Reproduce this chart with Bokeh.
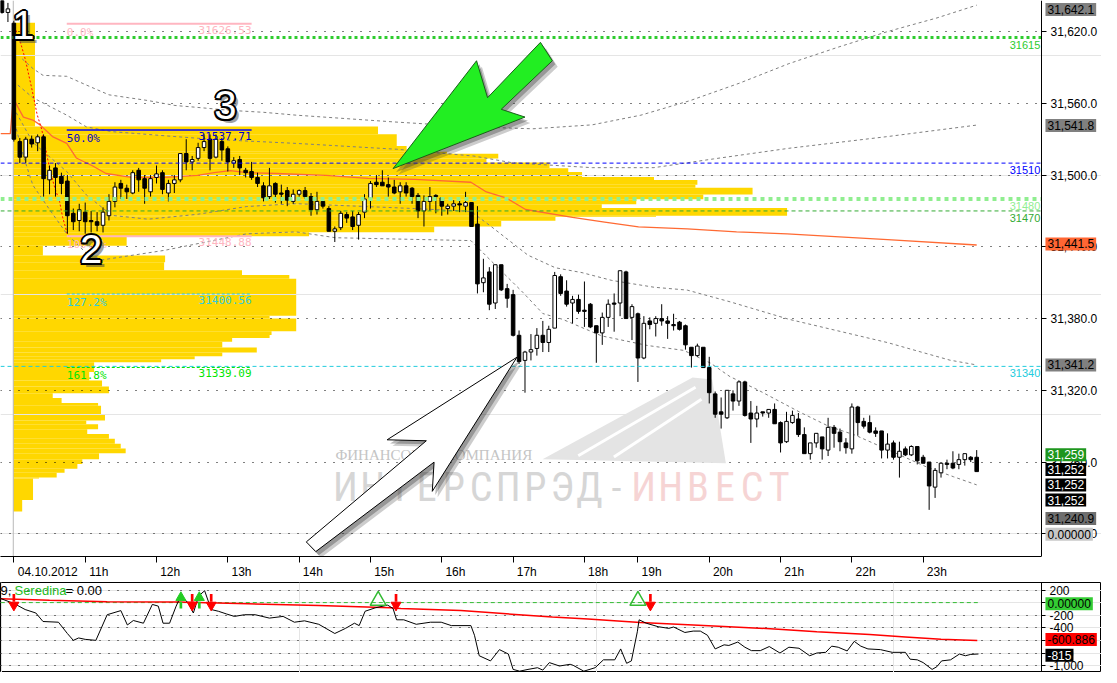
from bokeh.plotting import figure
from bokeh.layouts import column
from bokeh.models import (Range1d, FixedTicker, NumeralTickFormatter, CustomJSTickFormatter,
                          Label, Span, ColumnDataSource, LinearAxis, Grid)
from bokeh.core.properties import value
from bokeh.embed import file_html
from bokeh.resources import INLINE

# ---------------- candles (5-minute bars, index = bar number) ----------------
bar_open = [31646, 31636, 31627, 31528, 31515, 31530, 31527, 31532, 31496, 31506,
            31499, 31495, 31468, 31462, 31469, 31462, 31461, 31458, 31466, 31478,
            31493, 31489, 31485, 31504, 31497, 31486, 31498, 31502, 31485, 31493,
            31496, 31518, 31511, 31514, 31523, 31530, 31515, 31528, 31522, 31510,
            31513, 31504, 31503, 31498, 31491, 31482, 31493, 31485, 31487, 31478,
            31484, 31487, 31482, 31471, 31478, 31472, 31453, 31456, 31467, 31465,
            31458, 31469, 31481, 31494, 31494, 31492, 31490, 31486, 31491, 31489,
            31483, 31470, 31478, 31483, 31481, 31472, 31474, 31476, 31474, 31477,
            31459, 31410, 31419, 31393, 31425, 31405, 31400, 31366, 31345, 31352,
            31355, 31366, 31360, 31372, 31415, 31403, 31393, 31396, 31387, 31392,
            31374, 31368, 31381, 31393, 31393, 31419, 31381, 31384, 31347, 31378,
            31376, 31380, 31378, 31375, 31377, 31374, 31356, 31349, 31356, 31339,
            31317, 31302, 31297, 31317, 31311, 31327, 31301, 31296, 31302, 31301,
            31304, 31293, 31277, 31293, 31296, 31283, 31267, 31276, 31281, 31270,
            31289, 31285, 31276, 31271, 31306, 31294, 31293, 31286, 31286, 31270,
            31276, 31264, 31271, 31266, 31273, 31264, 31260, 31239, 31251, 31259,
            31259, 31258, 31262, 31264, 31264]
bar_high = [31648, 31644, 31629, 31531, 31532, 31533, 31534, 31534, 31508, 31510,
            31502, 31500, 31472, 31476, 31477, 31470, 31469, 31473, 31484, 31494,
            31496, 31492, 31504, 31506, 31500, 31500, 31508, 31504, 31496, 31500,
            31518, 31530, 31516, 31527, 31534, 31534, 31534, 31531, 31524, 31515,
            31516, 31506, 31511, 31502, 31494, 31506, 31494, 31492, 31490, 31488,
            31488, 31490, 31485, 31486, 31478, 31474, 31457, 31470, 31469, 31470,
            31469, 31484, 31495, 31500, 31504, 31498, 31496, 31494, 31494, 31490,
            31485, 31483, 31490, 31484, 31481, 31476, 31479, 31479, 31486, 31477,
            31474, 31430, 31423, 31425, 31425, 31409, 31404, 31370, 31353, 31367,
            31372, 31378, 31374, 31419, 31417, 31412, 31399, 31400, 31411, 31393,
            31374, 31385, 31396, 31401, 31420, 31420, 31392, 31385, 31382, 31381,
            31382, 31392, 31382, 31384, 31378, 31375, 31356, 31359, 31356, 31348,
            31319, 31314, 31320, 31320, 31328, 31328, 31311, 31307, 31302, 31304,
            31309, 31294, 31302, 31303, 31301, 31289, 31276, 31284, 31281, 31297,
            31291, 31288, 31280, 31309, 31307, 31297, 31299, 31289, 31286, 31284,
            31278, 31277, 31273, 31274, 31273, 31266, 31260, 31255, 31260, 31262,
            31269, 31267, 31267, 31265, 31270]
bar_low = [31635, 31628, 31528, 31510, 31510, 31523, 31520, 31482, 31484, 31482,
           31484, 31451, 31454, 31453, 31451, 31452, 31453, 31452, 31462, 31473,
           31480, 31480, 31484, 31486, 31476, 31482, 31493, 31484, 31478, 31485,
           31494, 31504, 31504, 31512, 31520, 31504, 31514, 31512, 31503, 31506,
           31500, 31498, 31496, 31490, 31478, 31480, 31477, 31476, 31474, 31476,
           31482, 31480, 31466, 31467, 31472, 31453, 31444, 31454, 31460, 31454,
           31446, 31464, 31472, 31490, 31491, 31482, 31484, 31476, 31482, 31476,
           31464, 31457, 31470, 31468, 31466, 31467, 31470, 31469, 31469, 31457,
           31401, 31402, 31387, 31388, 31403, 31389, 31365, 31342, 31318, 31345,
           31349, 31352, 31352, 31372, 31399, 31390, 31376, 31384, 31373, 31372,
           31343, 31358, 31373, 31369, 31382, 31380, 31362, 31327, 31346, 31371,
           31365, 31374, 31363, 31370, 31370, 31354, 31339, 31348, 31339, 31309,
           31297, 31288, 31296, 31303, 31307, 31298, 31276, 31289, 31298, 31297,
           31292, 31268, 31276, 31292, 31281, 31267, 31262, 31272, 31262, 31265,
           31272, 31269, 31267, 31267, 31282, 31288, 31284, 31281, 31263, 31263,
           31262, 31247, 31265, 31265, 31258, 31259, 31220, 31230, 31247, 31254,
           31254, 31254, 31257, 31260, 31252]
bar_close = [31636, 31639, 31530, 31515, 31530, 31526, 31532, 31497, 31504, 31498,
             31493, 31466, 31461, 31471, 31461, 31461, 31458, 31469, 31478, 31490,
             31489, 31486, 31502, 31496, 31489, 31497, 31501, 31488, 31493, 31496,
             31518, 31511, 31513, 31523, 31528, 31514, 31530, 31521, 31511, 31512,
             31506, 31502, 31498, 31493, 31481, 31491, 31484, 31484, 31479, 31484,
             31487, 31482, 31471, 31478, 31474, 31453, 31455, 31468, 31464, 31457,
             31467, 31480, 31493, 31492, 31491, 31490, 31485, 31491, 31485, 31482,
             31470, 31478, 31482, 31482, 31474, 31474, 31476, 31475, 31477, 31457,
             31409, 31414, 31392, 31425, 31404, 31397, 31366, 31344, 31352, 31354,
             31366, 31360, 31371, 31416, 31401, 31392, 31396, 31386, 31386, 31373,
             31368, 31381, 31392, 31392, 31420, 31380, 31390, 31347, 31376, 31375,
             31380, 31378, 31376, 31374, 31371, 31358, 31349, 31357, 31339, 31318,
             31300, 31300, 31320, 31311, 31327, 31299, 31296, 31301, 31301, 31304,
             31292, 31276, 31294, 31299, 31283, 31267, 31276, 31284, 31271, 31289,
             31284, 31277, 31272, 31306, 31293, 31290, 31285, 31284, 31270, 31275,
             31264, 31269, 31266, 31273, 31261, 31259, 31240, 31253, 31259, 31258,
             31255, 31262, 31267, 31262, 31252]

# ---------------- axis ticks ----------------
price_ticks = [31200, 31260, 31320, 31380, 31440, 31500, 31560, 31620]
hour_ticks = [2, 14, 26, 38, 50, 62, 74, 86, 98, 107, 119, 131, 143, 155]
hour_labels = ["04.10.2012", "11h", "12h", "13h", "14h", "15h", "16h", "17h",
               "18h", "19h", "20h", "21h", "22h", "23h"]
osc_ticks = [-1000, -800, -600, -400, -200, 0, 200]

# ---------------- volume profile (price bins, volume) ----------------
vp_edges = [31627.3, 31540.6, 31534.1, 31524.4, 31519.5, 31517.9, 31513.8, 31510.6,
            31505.7, 31502.5, 31498.4, 31495.9, 31491.9, 31489.5, 31483.8, 31479.7,
            31475.7, 31472.4, 31466.0, 31465.2, 31461.9, 31457.0, 31452.2, 31448.9,
            31440.8, 31432.7, 31427.0, 31420.5, 31416.5, 31413.2, 31382.4, 31380.0,
            31369.4, 31366.2, 31363.8, 31360.5, 31355.7, 31351.6, 31348.4, 31345.9,
            31343.5, 31335.4, 31328.1, 31323.2, 31317.5, 31313.5, 31309.4, 31307.0,
            31299.7, 31294.8, 31291.6, 31287.5, 31283.5, 31279.4, 31275.4, 31271.3,
            31267.3, 31262.4, 31258.3, 31254.3, 31251.0, 31247.0, 31246.2, 31228.3,
            31218.6]
vp_volume = [22, 370, 389, 399, 440, 492, 480, 544, 563, 577, 650, 694, 692, 750, 700, 632,
             597, 785, 652, 550, 495, 427, 300, 115, 30, 154, 153, 232, 280, 287, 260, 287,
             262, 260, 222, 212, 247, 212, 184, 150, 82, 77, 90, 97, 40, 49, 86, 89,
             93, 74, 86, 75, 97, 103, 109, 114, 87, 70, 65, 52, 44, 26, 20, 9]

# ---------------- VWAP and deviation bands ----------------
vwap_x = [-0.25, 1.4, 1.9, 2.7, 3.6, 5.2, 6.4, 8.5, 10.9, 12.5, 15.2, 17.5, 21.8, 27.4,
          32.9, 35.7, 38.4, 41.2, 46.2, 54.5, 61.6, 69.4, 78.9, 81.5, 84.8, 88.1, 96.0,
          101.4, 107.1, 115.3, 123.6, 132.1, 149.0, 164.0]
vwap_y = [31534.6, 31534.6, 31564.7, 31556.6, 31548.5, 31546.0, 31542.0, 31532.2, 31526.5,
          31514.3, 31507.8, 31501.3, 31498.1, 31498.1, 31499.7, 31502.1, 31503.7, 31502.1,
          31501.3, 31499.7, 31497.2, 31496.4, 31494.0, 31485.9, 31481.0, 31471.2, 31464.7,
          31460.7, 31456.6, 31455.0, 31452.5, 31450.9, 31446.0, 31441.5]
u1_x = [1.9, 5.2, 10.9, 14.2, 18.5, 23.0, 29.1, 35.7, 49.5, 66.4, 79.4, 86.0, 99.3, 109.7,
        119.7, 132.4, 149.0, 164.0]
u1_y = [31578.5, 31564.7, 31550.1, 31540.3, 31536.3, 31534.6, 31532.2, 31529.8, 31526.5,
        31521.6, 31515.9, 31510.2, 31506.2, 31506.2, 31513.5, 31522.4, 31532.2, 31541.8]
u2_x = [3.4, 5.2, 6.9, 10.9, 14.2, 18.0, 21.3, 24.6, 29.1, 32.9, 38.4, 44.0, 49.5, 66.1,
        79.4, 89.3, 99.3, 107.5, 115.8, 124.1, 132.4, 140.7, 149.0, 157.3, 164.0]
u2_y = [31597.2, 31589.1, 31583.4, 31582.6, 31575.3, 31567.1, 31564.7, 31562.3, 31558.2,
        31556.6, 31554.1, 31552.5, 31550.1, 31544.4, 31540.3, 31538.7, 31542.0, 31550.1,
        31562.3, 31576.9, 31593.2, 31607.0, 31620.0, 31631.4, 31642.1]
l1_x = [1.9, 5.2, 10.9, 14.2, 18.5, 24.6, 32.9, 41.2, 49.5, 69.4, 78.9, 82.2, 88.5, 93.1,
        97.6, 102.6, 109.7, 115.3, 122.5, 132.4, 149.0, 159.5, 164.0]
l1_y = [31556.6, 31527.3, 31502.9, 31483.4, 31466.3, 31463.1, 31467.2, 31473.7, 31476.1,
        31472.0, 31469.6, 31457.4, 31433.0, 31422.5, 31418.4, 31411.9, 31406.2, 31403.8,
        31394.0, 31379.4, 31359.9, 31345.2, 31341.2]
l2_x = [1.9, 3.6, 5.2, 8.0, 10.9, 14.2, 16.8, 27.4, 41.2, 49.5, 56.1, 78.9, 81.5, 84.8,
        87.6, 91.0, 94.3, 100.9, 108.7, 114.7, 119.2, 122.5, 127.0, 134.1, 139.1, 143.5,
        151.2, 155.6, 160.1, 164.0]
l2_y = [31548.5, 31515.9, 31491.5, 31471.2, 31450.9, 31434.6, 31429.0, 31437.1, 31450.9,
        31452.5, 31447.6, 31445.2, 31432.2, 31415.9, 31402.1, 31384.2, 31379.4, 31365.5,
        31357.4, 31353.4, 31342.8, 31331.4, 31320.8, 31302.1, 31289.9, 31282.6, 31265.6,
        31255.8, 31247.7, 31240.9]
sar_x = [1.9, 3.1, 3.9, 5.1, 5.9, 6.7, 7.5, 8.0, 8.9, 9.7, 10.2, 10.9, 11.0]
sar_y = [31627.3, 31611.0, 31597.2, 31570.4, 31550.9, 31537.9, 31518.4, 31505.4, 31489.1,
         31477.7, 31464.7, 31452.5, 31450.9]

# ---------------- Fibonacci & levels ----------------
fib_levels = [31626.53, 31537.71, 31448.88, 31400.56, 31339.09]
fib_pct = ["0.0%", "50.0%", "100.0%", "127.2%", "161.8%"]
fib_start, fib_end = 10.9, 42.0
level_prices = [31615, 31510, 31480, 31470, 31340]
session_start = 1.9

# ---------------- price tags on the right ----------------
tag_text = ["31,642.1", "31,541.8", "31,441.5", "31,341.2", "31,259",
            "31,252", "31,252", "31,252", "31,240.9", "0.00000"]
tag_price = [31638.5, 31541.5, 31442.4, 31341.2, 31266.0,
             31253.8, 31240.8, 31228.2, 31212.7, 31199.7]

# ---------------- lower indicator ----------------
osc_x = [-0.2, 2.1, 3.9, 5.7, 6.9, 9.5, 11.0, 12.0, 12.9, 14.0,
         15.8, 17.7, 20.0, 21.1, 22.1, 23.8, 25.3, 26.3, 27.1, 28.2,
         29.3, 30.1, 31.3, 32.2, 33.1, 34.1, 35.2, 36.4, 37.8, 39.1,
         40.8, 42.6, 45.0, 47.3, 49.2, 50.9, 53.3, 56.0, 57.8, 59.3,
         60.1, 61.1, 62.8, 64.9, 65.8, 66.4, 67.6, 69.7, 72.1, 73.9,
         75.6, 78.9, 79.5, 80.3, 82.2, 83.7, 85.2, 86.0, 87.1, 88.5,
         90.1, 91.0, 92.1, 93.8, 95.6, 96.1, 97.9, 99.8, 101.2, 103.1,
         104.1, 105.1, 105.9, 106.9, 107.2, 108.4, 110.4, 112.2, 113.0, 114.9,
         116.3, 117.5, 118.7, 120.0, 121.5, 122.3, 123.8, 125.0, 126.1, 127.6,
         129.1, 130.9, 132.4, 134.1, 135.9, 137.1, 138.6, 139.6, 140.7, 142.2,
         143.4, 144.5, 145.7, 147.8, 149.8, 152.0, 152.8, 154.0, 155.0, 156.5,
         157.3, 158.1, 159.6, 161.1, 162.1, 163.0, 164.3]
osc_val = [64, -18, -110, -165, -300, -311, -490, -599, -561, -583,
           -599, -192, -127, -355, -284, -327, -29, -56, -327, -327,
           -56, 107, -2, -165, 107, 188, -110, -137, -181, -219,
           -192, -192, -246, -219, -311, -289, -344, -490, -409, -327,
           -365, -137, -83, -40, -94, -273, -273, -344, -311, -311,
           -365, -365, -518, -843, -925, -746, -816, -1060, -1088, -1060,
           -1033, -1071, -952, -1006, -979, -995, -1088, -1033, -908, -908,
           -735, -963, -925, -463, -273, -327, -382, -409, -387, -474,
           -452, -452, -518, -735, -670, -680, -626, -708, -762, -762,
           -697, -800, -708, -724, -843, -800, -789, -691, -708, -767,
           -615, -691, -735, -746, -789, -789, -898, -908, -952, -1060,
           -1017, -925, -908, -816, -843, -822, -815]
sig_x = [-0.25, 8.0, 17.7, 29.4, 41.4, 53.3, 65.3, 67.1, 77.2, 92.6, 98.6, 107.4, 116.3,
         122.3, 131.3, 137.1, 146.0, 152.0, 158.0, 164.1]
sig_val = [63, 36, 15, 9, -18, -45, -83, -94, -127, -230, -262, -317, -355, -382, -425,
           -463, -507, -545, -583, -601]
sell_x = [2.0, 32.0, 35.2, 66.3, 109.1]
buy_x = [30.1, 33.2]
alert_x = [63.3, 107.0]
low_tag_text = ["0.00000", "-600.886", "-815"]
low_tag_val = [-20, -585, -836]

# ---------------- drawings (chart coordinates: bar, price) ----------------
garrow_x = [65.8, 79.85, 81.7, 90.6, 92.6, 84.0, 88.0]
garrow_y = [31505.4, 31595.6, 31564.7, 31611.0, 31595.6, 31555.0, 31548.5]
warrow_x = [51.2, 71.4, 64.8, 86.65, 72.4, 72.7, 52.8]
warrow_y = [31193.2, 31277.8, 31278.6, 31347.7, 31235.5, 31259.9, 31185.1]
num_text = ["1", "2", "3"]
num_x = [3.6, 15.0, 37.6]
num_y = [31625.5, 31437.9, 31558.2]
wm_letters = list("ИНТЕРСПРЭД-ИНВЕСТ")
logo_x = [90.96, 116.2, 119.5, 121.8]
logo_y = [31262.3, 31330.6, 31329.0, 31259.0]

# =====================================================================
FONT = "Liberation Sans"
MONO = "DejaVu Sans Mono"
FW, FH_MAIN, FH_LOW = 1101, 556, 90
axis_x = 174.9           # bar position of the price axis line

xr = Range1d(-0.25, 185.0)
p = figure(frame_width=FW, frame_height=FH_MAIN, x_range=xr, y_range=Range1d(31181, 31646),
           y_axis_location=None, output_backend="svg", toolbar_location=None,
           min_border_left=0, min_border_right=0, min_border_top=0, min_border_bottom=0)
p.outline_line_color = None
p.background_fill_color = "white"
p.border_fill_color = "white"
p.extra_x_ranges = {"vol": Range1d(-13, 1104)}

# price axis drawn at a fixed position inside the canvas
yax = LinearAxis(fixed_location=axis_x, ticker=FixedTicker(ticks=price_ticks),
                 formatter=NumeralTickFormatter(format="0,0.0"),
                 major_label_text_font=FONT, major_label_text_font_size="12px",
                 major_label_text_color="black", axis_line_color="black",
                 major_tick_line_color="black", major_tick_out=5, major_tick_in=0,
                 minor_tick_line_color=None, major_label_standoff=4)
p.add_layout(yax, "right")

label_pos = [t + (5.7 if i == 0 else 2.3) for i, t in enumerate(hour_ticks)]
p.xaxis.ticker = FixedTicker(ticks=label_pos, minor_ticks=hour_ticks)
p.xaxis.formatter = CustomJSTickFormatter(args=dict(pos=label_pos, txt=hour_labels), code="""
for (let i = 0; i < pos.length; i++) { if (Math.abs(pos[i] - tick) < 1e-6) return txt[i]; }
return "";
""")
p.xaxis.bounds = (xr.start, axis_x)
p.xaxis.major_tick_out = 0
p.xaxis.major_tick_in = 0
p.xaxis.minor_tick_out = 6
p.xaxis.minor_tick_in = 0
p.xaxis.minor_tick_line_color = "black"
p.xaxis.axis_line_color = "black"
p.xaxis.major_label_standoff = 2
p.xaxis.major_label_text_font = FONT
p.xaxis.major_label_text_font_size = "12px"
p.xaxis.major_label_text_color = "black"
p.xgrid.visible = False
p.add_layout(Grid(dimension=1, ticker=FixedTicker(ticks=price_ticks), grid_line_color="black",
                  grid_line_dash="1 8", cross_bounds=(xr.start, axis_x)))

# volume profile
p.quad(left=0, right=vp_volume, top=vp_edges[:-1], bottom=vp_edges[1:], x_range_name="vol",
       fill_color="#FFD700", line_color=None, level="image")
p.add_layout(Span(location=session_start, dimension="height", line_color="#B8B8B8",
                  line_width=1, level="underlay"))

# watermark
p.patch(logo_x, logo_y, fill_color="#E4E4E4", line_color=None)
p.segment(x0=[logo_x[0] + 6, logo_x[0] + 12], y0=[logo_y[0] + 3, logo_y[0] + 2],
          x1=[logo_x[1] + 0.5, logo_x[1] + 1.5], y1=[logo_y[1] - 8, logo_y[1] - 18],
          line_color="white", line_width=3)
wm_x = [57.8 + 4.56 * i for i in range(len(wm_letters))]
wm_col = ["#D6D6D6"] * 11 + ["#F6D4D4"] * 6
p.text(x=wm_x, y=[31239] * len(wm_letters), text=wm_letters, text_color=wm_col,
       text_font=value("Roboto Condensed, DejaVu Sans Condensed, Liberation Sans Narrow, Liberation Sans"),
       text_font_size="40px", text_align="center", text_baseline="middle")
p.text(x=[56.1], y=[31265.6], text=["ФИНАНСОВАЯ КОМПАНИЯ"], text_color="#C4C4C4",
       text_font=value("Liberation Serif"), text_font_size="15px",
       text_align="left", text_baseline="middle")

# bands and vwap
band_style = dict(line_color="#7F7F7F", line_width=1, line_dash="3 3")
for bx, by in [(u2_x, u2_y), (u1_x, u1_y), (l1_x, l1_y), (l2_x, l2_y)]:
    p.line(bx, by, **band_style)
p.line(vwap_x, vwap_y, line_color="#FF6A33", line_width=1.3)
p.line(sar_x, sar_y, line_color="#FF0000", line_width=1, line_dash="2 2")

# candles
src = ColumnDataSource(dict(
    x=list(range(len(bar_open))), h=bar_high, l=bar_low,
    top=[max(o, c) for o, c in zip(bar_open, bar_close)],
    bot=[min(o, c) for o, c in zip(bar_open, bar_close)],
    fill=["white" if c >= o else "black" for o, c in zip(bar_open, bar_close)]))
p.segment(x0="x", y0="h", x1="x", y1="l", source=src, line_color="black", line_width=1)
p.vbar(x="x", top="top", bottom="bot", width=0.6, fill_color="fill", line_color="black",
       line_width=1, source=src)

# horizontal levels (stop at the price axis)
lvl_col = ["#2ECC2E", "#0000FF", "#90EE90", "#33AA33", "#22CCDD"]
lvl_w = [3, 1, 4, 1, 1]
lvl_dash = ["3 3", "4 3", "4 4", "4 3", "4 3"]
for lv, col, w, d in zip(level_prices, lvl_col, lvl_w, lvl_dash):
    p.segment(x0=[xr.start], x1=[axis_x], y0=[lv], y1=[lv], line_color=col, line_width=w,
              line_dash=d)
p.text(x=[axis_x - 0.2] * len(level_prices), y=level_prices, text=[str(v) for v in level_prices],
       text_color=lvl_col, text_font=value(FONT), text_font_size="11px",
       text_align="right", text_baseline="top", y_offset=3)

# fibonacci
fib_col = ["#FFB6C1", "#0000FF", "#FFB6C1", "#22CCDD", "#00E600"]
fib_txt_col = ["#FFB6C1", "#0000CC", "#FFB6C1", "#33CCDD", "#00E600"]
p.segment(x0=[fib_start] * 3, x1=[fib_end] * 3, y0=fib_levels[:3], y1=fib_levels[:3],
          line_color=fib_col[:3], line_width=[2, 1.5, 2])
p.segment(x0=[fib_start] * 2, x1=[fib_end] * 2, y0=fib_levels[3:], y1=fib_levels[3:],
          line_color=fib_col[3:], line_width=1, line_dash="3 2")
p.text(x=[fib_start] * 5, y=fib_levels, text=fib_pct, text_color=fib_txt_col,
       text_font=value(MONO), text_font_size="11px", text_align="left",
       text_baseline="top", y_offset=2)
p.text(x=[fib_end] * 5, y=fib_levels, text=["%.2f" % v for v in fib_levels],
       text_color=fib_txt_col, text_font=value(MONO), text_font_size="11px",
       text_align="right", text_baseline="top", y_offset=2)

# arrows with shadows
for dx, dy, a in [(0.9, -5.0, 0.25), (0.5, -3.0, 0.35)]:
    p.patch([v + dx for v in garrow_x], [v + dy for v in garrow_y], fill_color="#333333",
            fill_alpha=a, line_color=None)
    p.patch([v + dx for v in warrow_x], [v + dy for v in warrow_y], fill_color="#333333",
            fill_alpha=a, line_color=None)
p.patch(garrow_x, garrow_y, fill_color="#22EE22", line_color="#1A5E1A", line_width=1)
p.patch(warrow_x, warrow_y, fill_color="white", line_color="black", line_width=1)

# numbers 1 2 3
num_kw = dict(text_font=value(FONT), text_font_size="40px", text_align="center",
              text_baseline="middle")
p.text(x=num_x, y=num_y, text=num_text, text_color="#444444", text_alpha=0.5,
       x_offset=4, y_offset=4, **num_kw)
for dx, dy in [(-2, 0), (2, 0), (0, -2), (0, 2), (-1.5, -1.5), (1.5, -1.5), (-1.5, 1.5), (1.5, 1.5)]:
    p.text(x=num_x, y=num_y, text=num_text, text_color="black", x_offset=dx, y_offset=dy, **num_kw)
p.text(x=num_x, y=num_y, text=num_text, text_color="white", **num_kw)

# right tags
tag_bg = ["#808080", "#808080", "#FF6633", "#808080", "#1E961E",
          "black", "black", "black", "#6E6E6E", "#C8C8C8"]
tag_fg = ["black", "black", "black", "black", "white",
          "white", "white", "white", "black", "black"]
for t, yv, bg, fg in zip(tag_text, tag_price, tag_bg, tag_fg):
    p.add_layout(Label(x=axis_x + 0.67, y=yv, text=t, text_font=FONT, text_font_size="12px",
                       text_color=fg, background_fill_color=bg, text_baseline="middle",
                       text_align="left", padding=2))

# =====================================================================
q = figure(frame_width=FW, frame_height=FH_LOW, x_range=xr, y_range=Range1d(-1109, 319),
           y_axis_location=None, x_axis_location=None, output_backend="svg",
           toolbar_location=None, min_border_left=0, min_border_right=0,
           min_border_top=1, min_border_bottom=0)
q.outline_line_color = "black"
q.background_fill_color = "white"
qax = LinearAxis(fixed_location=axis_x, ticker=FixedTicker(ticks=osc_ticks),
                 formatter=NumeralTickFormatter(format="0,0"),
                 major_label_text_font=FONT, major_label_text_font_size="12px",
                 major_label_text_color="black", axis_line_color="black",
                 major_tick_line_color="black", major_tick_out=4, major_tick_in=0,
                 minor_tick_line_color=None, major_label_standoff=4)
q.add_layout(qax, "right")
q.add_layout(Grid(dimension=1, ticker=FixedTicker(ticks=[t for t in osc_ticks if t != 0]),
                  grid_line_color="black", grid_line_dash="1 8",
                  cross_bounds=(xr.start, axis_x)))

q.segment(x0=[osc_x[0]], x1=[osc_x[-1]], y0=[0], y1=[0], line_color="#33BB33",
          line_width=1, line_dash="4 3")
q.line(sig_x, sig_val, line_color="#FF0000", line_width=1.5)
q.line(osc_x, osc_val, line_color="black", line_width=1)

q.vbar(x=sell_x, top=137, bottom=15, width=0.45, fill_color="#FF0000", line_color=None)
q.scatter(x=sell_x, y=[-40] * len(sell_x), marker="inverted_triangle", size=10,
          fill_color="#FF0000", line_color="#FF0000")
q.vbar(x=buy_x, top=15, bottom=-95, width=0.45, fill_color="#22CC22", line_color=None)
q.scatter(x=buy_x, y=[80] * len(buy_x), marker="triangle", size=10,
          fill_color="#22CC22", line_color="#22CC22")
q.scatter(x=alert_x, y=[30] * len(alert_x), marker="triangle", size=16,
          fill_color=None, line_color="#33BB33", line_width=1.5)

q.text(x=[-0.25], y=[200], text=["9,"], text_color="black", text_font=value(FONT),
       text_font_size="13px", text_align="left", text_baseline="middle")
q.text(x=[2.1], y=[200], text=["Seredina"], text_color="#22BB22", text_font=value(FONT),
       text_font_size="13px", text_align="left", text_baseline="middle")
q.text(x=[10.7], y=[200], text=["= 0.00"], text_color="black", text_font=value(FONT),
       text_font_size="13px", text_align="left", text_baseline="middle")

low_bg = ["#33CC33", "#FF0000", "black"]
low_fg = ["black", "black", "white"]
for t, yv, bg, fg in zip(low_tag_text, low_tag_val, low_bg, low_fg):
    q.add_layout(Label(x=axis_x + 0.67, y=yv, text=t, text_font=FONT, text_font_size="12px",
                       text_color=fg, background_fill_color=bg, text_baseline="middle",
                       text_align="left", padding=2))

layout = column(p, q, spacing=0)
open("out.html", "w").write(file_html(layout, INLINE))
